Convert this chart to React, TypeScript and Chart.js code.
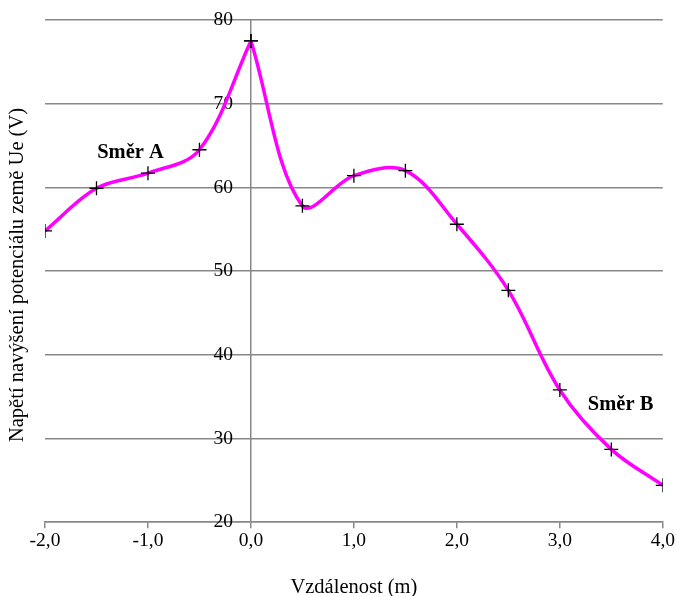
import React, { useEffect, useRef } from "react";
import { Chart, registerables } from "chart.js";

Chart.register(...registerables);

// Směr A (negative distances) and Směr B (positive distances), sharing the 0 m point
const distancesA = [-2, -1.5, -1, -0.5, 0];
const voltagesA = [54.8, 59.9, 61.7, 64.5, 77.5];
const distancesB = [0, 0.5, 1, 1.5, 2, 2.5, 3, 3.5, 4];
const voltagesB = [77.5, 57.8, 61.4, 62.0, 55.6, 47.7, 35.8, 28.7, 24.4];
const xTicks = [-2, -1, 0, 1, 2, 3, 4];
const yTicks = [20, 30, 40, 50, 60, 70, 80];
const yTitle = "Napětí navýšení potenciálu země Ue (V)";
const xTitle = "Vzdálenost (m)";
const labelA = { text: "Směr A", x: -1.17, y: 64.2 };
const labelB = { text: "Směr B", x: 3.59, y: 34.0 };

const FONT = "'Liberation Serif', 'Times New Roman', serif";
const MAGENTA = "#FF00FF";
const GRID = "#888888";

function seriesStyle() {
  return {
    borderColor: MAGENTA,
    borderWidth: 3.5,
    tension: 0.35,
    pointStyle: "cross" as const,
    pointRadius: 7,
    pointBorderColor: "#000",
    pointBorderWidth: 1.3,
    pointBackgroundColor: "#000",
    fill: false,
  };
}

export default function App() {
  const ref = useRef<HTMLCanvasElement | null>(null);
  useEffect(() => {
    if (!ref.current) return;
    const textPlugin = {
      id: "texts",
      afterDatasetsDraw(chart: any) {
        const { ctx, scales } = chart;
        ctx.save();
        ctx.fillStyle = "#000";
        ctx.textAlign = "center";
        ctx.textBaseline = "middle";
        ctx.font = `bold 20.5px ${FONT}`;
        for (const l of [labelA, labelB]) {
          ctx.fillText(l.text, scales.x.getPixelForValue(l.x), scales.y.getPixelForValue(l.y));
        }
        ctx.font = `20.5px ${FONT}`;
        ctx.translate(18, 275);
        ctx.rotate(-Math.PI / 2);
        ctx.fillText(yTitle, 0, 0);
        ctx.restore();
      },
    };
    const chart = new Chart(ref.current, {
      type: "line",
      data: {
        datasets: [
          { label: "Směr A", data: distancesA.map((x, i) => ({ x, y: voltagesA[i] })), ...seriesStyle() },
          { label: "Směr B", data: distancesB.map((x, i) => ({ x, y: voltagesB[i] })), ...seriesStyle() },
        ],
      },
      options: {
        animation: false,
        responsive: false,
        layout: { padding: { left: 45, right: 12, top: 20, bottom: 0 } },
        plugins: { legend: { display: false }, tooltip: { enabled: false } },
        scales: {
          x: {
            type: "linear",
            min: -2,
            max: 4,
            afterBuildTicks: (axis: any) => {
              axis.ticks = xTicks.map((v) => ({ value: v }));
            },
            grid: {
              drawOnChartArea: true,
              drawTicks: true,
              tickLength: 6,
              color: (c: any) => (c.tick && c.tick.value === 0 ? GRID : "rgba(0,0,0,0)"),
              tickColor: GRID,
              lineWidth: 1.5,
            },
            border: { color: GRID, width: 1.5 },
            ticks: {
              color: "#000",
              font: { family: FONT, size: 19.5 },
              padding: 1,
              maxRotation: 0,
              callback: (v: any) => Number(v).toFixed(1).replace(".", ","),
            },
            title: {
              display: true,
              text: xTitle,
              color: "#000",
              font: { family: FONT, size: 20.5, lineHeight: 0.8 },
              padding: { top: 26, bottom: 0 },
            },
          },
          y: {
            type: "linear",
            position: { x: -0.175 } as any,
            min: 20,
            max: 80,
            afterBuildTicks: (axis: any) => {
              axis.ticks = yTicks.map((v) => ({ value: v }));
            },
            grid: { color: GRID, lineWidth: 1.5, drawTicks: false },
            border: { display: false },
            ticks: {
              color: "#000",
              font: { family: FONT, size: 19.5 },
            },
          },
        },
      },
      plugins: [textPlugin],
    });
    return () => chart.destroy();
  }, []);
  return (
    <div style={{ position: "absolute", left: 0, top: 0, width: 676, height: 596, background: "#fff" }}>
      <canvas ref={ref} width={676} height={596} style={{ width: 676, height: 596 }} />
    </div>
  );
}
